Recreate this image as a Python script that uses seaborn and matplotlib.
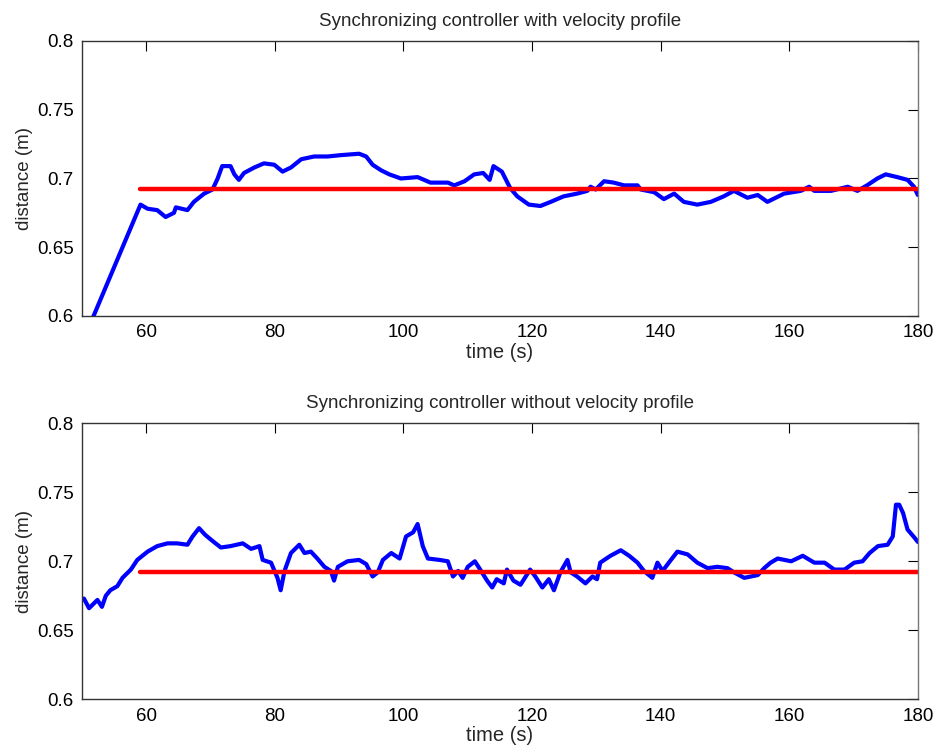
# %%
import numpy as np
import pandas as pd
import seaborn as sns
import matplotlib
matplotlib.use("Agg")
import matplotlib.pyplot as plt
from matplotlib.ticker import FuncFormatter

# %% valores

# com perfil de velocidade
t_com = [50.0, 51.8, 59.1, 60.2, 61.7, 63.0, 64.3, 64.6, 66.4, 67.4, 69.0, 70.3, 71.1,
         71.8, 73.1, 73.7, 74.4, 75.2, 76.8, 78.3, 79.9, 81.2, 82.5, 84.1, 86.1, 88.2,
         90.3, 93.1, 94.2, 95.2, 96.5, 97.8, 99.6, 102.2, 104.2, 106.9, 107.9, 109.5,
         111.0, 112.4, 113.4, 114.0, 115.3, 116.6, 117.7, 119.5, 121.3, 122.9, 124.9,
         127.0, 128.6, 129.1, 129.9, 131.2, 132.7, 134.3, 136.4, 136.9, 139.0, 140.5,
         142.1, 143.6, 145.7, 147.8, 149.8, 151.4, 153.5, 155.1, 156.6, 159.2, 161.8,
         163.1, 163.9, 166.5, 169.1, 170.6, 172.1, 173.7, 175.0, 176.8, 178.4, 179.4, 180.0]
d_com = [0.580, 0.600, 0.681, 0.678, 0.677, 0.672, 0.675, 0.679, 0.677, 0.683, 0.689, 0.692, 0.700,
         0.709, 0.709, 0.703, 0.699, 0.704, 0.708, 0.711, 0.710, 0.705, 0.708, 0.714, 0.716, 0.716,
         0.717, 0.718, 0.716, 0.710, 0.706, 0.703, 0.700, 0.701, 0.697, 0.697, 0.695, 0.698,
         0.703, 0.704, 0.699, 0.709, 0.705, 0.693, 0.687, 0.681, 0.680, 0.683, 0.687,
         0.689, 0.691, 0.694, 0.692, 0.698, 0.697, 0.695, 0.695, 0.692, 0.690, 0.685,
         0.689, 0.683, 0.681, 0.683, 0.687, 0.691, 0.686, 0.688, 0.683, 0.689, 0.691,
         0.694, 0.691, 0.691, 0.694, 0.691, 0.695, 0.700, 0.703, 0.701, 0.699, 0.694, 0.688]

# sem perfil de velocidade
t_sem = [50.3, 51.1, 52.4, 53.1, 53.7, 54.4, 55.5, 56.3, 57.6, 58.6, 60.2, 61.7, 63.3,
         64.8, 66.4, 67.2, 68.2, 69.2, 70.5, 71.6, 73.1, 75.0, 76.3, 77.6, 78.1, 79.4,
         80.4, 80.9, 81.5, 82.5, 83.8, 84.6, 85.6, 86.6, 87.7, 88.7, 89.2, 89.8, 91.3,
         93.1, 94.2, 95.2, 96.0, 96.8, 98.1, 99.4, 100.4, 101.5, 102.2, 103.0, 103.8,
         105.6, 106.9, 107.7, 108.5, 109.2, 110.0, 111.1, 111.8, 113.0, 113.8, 114.5,
         115.6, 116.1, 117.1, 118.2, 119.7, 120.5, 121.6, 122.6, 123.4, 124.4, 125.5,
         126.0, 127.0, 128.3, 129.4, 130.1, 130.6, 132.2, 133.8, 135.1, 136.4, 137.4,
         138.7, 139.5, 140.3, 141.6, 142.6, 144.2, 145.7, 147.3, 148.8, 150.4, 151.4,
         153.0, 155.1, 156.1, 157.1, 158.2, 160.3, 162.1, 163.9, 165.5, 167.0, 168.6,
         170.1, 171.4, 172.5, 173.8, 175.3, 176.1, 176.6, 177.1, 177.7, 178.4, 179.5, 180.0]
d_sem = [0.673, 0.666, 0.672, 0.667, 0.675, 0.679, 0.682, 0.688, 0.694, 0.701, 0.707, 0.711, 0.713,
         0.713, 0.712, 0.718, 0.724, 0.719, 0.714, 0.710, 0.711, 0.713, 0.709, 0.711, 0.701, 0.699,
         0.688, 0.679, 0.693, 0.706, 0.712, 0.706, 0.707, 0.702, 0.696, 0.693, 0.686, 0.696, 0.700,
         0.701, 0.698, 0.689, 0.692, 0.701, 0.706, 0.702, 0.718, 0.721, 0.727, 0.711, 0.702,
         0.701, 0.700, 0.689, 0.693, 0.688, 0.696, 0.700, 0.695, 0.686, 0.681, 0.687,
         0.684, 0.694, 0.686, 0.683, 0.694, 0.689, 0.681, 0.687, 0.679, 0.692, 0.701,
         0.692, 0.689, 0.684, 0.689, 0.687, 0.699, 0.704, 0.708, 0.704, 0.699, 0.693,
         0.688, 0.699, 0.693, 0.701, 0.707, 0.705, 0.699, 0.695, 0.696, 0.695, 0.692,
         0.688, 0.690, 0.695, 0.699, 0.702, 0.700, 0.704, 0.699, 0.699, 0.694, 0.694,
         0.699, 0.700, 0.706, 0.711, 0.712, 0.718, 0.741, 0.741, 0.735, 0.723, 0.717, 0.714]

# distancia de referencia
t_ref = [59, 180]
d_ref = [0.692, 0.692]

titulos = ["Synchronizing controller with velocity profile",
           "Synchronizing controller without velocity profile"]

# %%
sns.set_style("white")
plt.rcParams['font.family'] = ['Liberation Sans', 'DejaVu Sans']

fig = plt.figure(figsize=(9.36, 7.52), dpi=100)
ax1 = fig.add_axes([0.0876, 0.5798, 0.893, 0.3657])
ax2 = fig.add_axes([0.0876, 0.0701, 0.893, 0.3670])

series = [(ax1, t_com, d_com), (ax2, t_sem, d_sem)]
for (ax, t, d), titulo in zip(series, titulos):
    sns.lineplot(x=t, y=d, ax=ax, color='#0000ff', lw=3, sort=False)
    sns.lineplot(x=t_ref, y=d_ref, ax=ax, color='#ff0000', lw=3.2)
    ax.set_xlim(50, 180)
    ax.set_ylim(0.6, 0.8)
    ax.set_xticks([60, 80, 100, 120, 140, 160, 180])
    ax.set_yticks([0.6, 0.65, 0.7, 0.75, 0.8])
    ax.yaxis.set_major_formatter(FuncFormatter(lambda v, p: f"{v:g}"))
    ax.tick_params(direction='in', length=7, width=0.8, top=True, right=True,
                   labelsize=13.5, colors='black', pad=6)
    for s in ax.spines.values():
        s.set_color('#333333')
        s.set_linewidth(1.0)
    ax.spines['right'].set_color('#777777')
    ax.set_xlabel('time (s)', fontsize=14.5, labelpad=1)
    ax.set_ylabel('distance (m)', fontsize=13.5, labelpad=3)
    ax.set_title(titulo, fontsize=13.5, pad=11)

fig.savefig('out.png', dpi=100)
